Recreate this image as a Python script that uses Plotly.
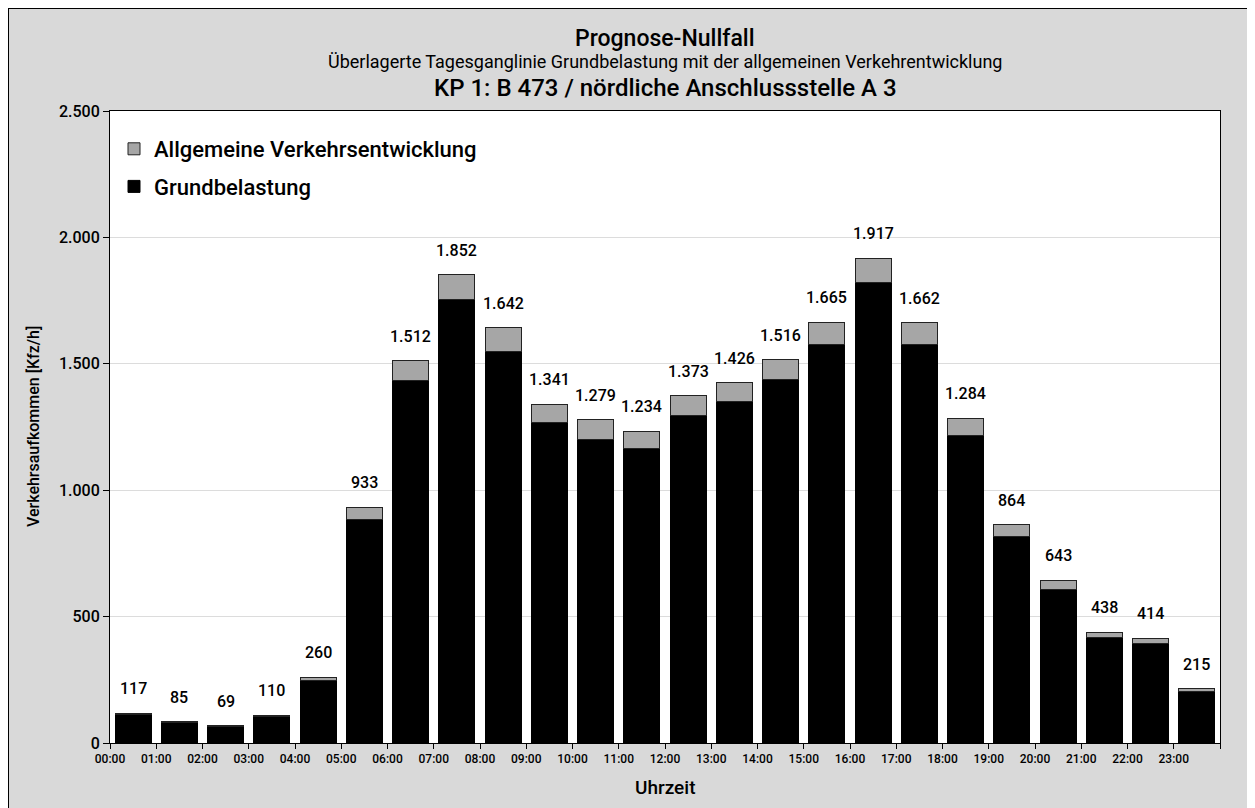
import plotly.graph_objects as go

hours = [f"{h:02d}:00" for h in range(24)]
totals = [117, 85, 69, 110, 260, 933, 1512, 1852, 1642, 1341, 1279, 1234,
          1373, 1426, 1516, 1665, 1917, 1662, 1284, 864, 643, 438, 414, 215]
grund = [111, 81, 66, 105, 247, 886, 1432, 1756, 1550, 1266, 1202, 1165,
         1297, 1349, 1437, 1578, 1820, 1576, 1218, 818, 609, 416, 393, 204]
allg = [t - g for t, g in zip(totals, grund)]

FONT = "Roboto, DejaVu Sans, sans-serif"
xpos = [i + 0.5 for i in range(len(hours))]

# plot area in figure pixels
L, T, R, B = 102, 103, 1212, 735
W, H = 1255, 808

def px(p):
    return (p - L) / (R - L)

def py(p):
    return (B - p) / (B - T)

fig = go.Figure()
fig.add_trace(go.Bar(x=xpos, y=grund, name="Grundbelastung", width=0.78, legendgroup="g",
                     legendrank=2,
                     marker=dict(color="#000000", line=dict(color="#000000", width=1))))
fig.add_trace(go.Bar(x=xpos, y=allg, name="Allgemeine Verkehrsentwicklung", width=0.78,
                     legendgroup="a", legendrank=1,
                     marker=dict(color="#a6a6a6", line=dict(color="#222222", width=1))))

def de(n):
    return f"{n:,}".replace(",", ".")

annotations = []
for x, t in zip(xpos, totals):
    annotations.append(dict(x=x, y=t, xref="x", yref="y", text=de(t), showarrow=False,
                            yanchor="bottom", yshift=13,
                            font=dict(size=16, color="#000", family=FONT, weight=500)))

annotations += [
    dict(x=0.5, y=py(30), xref="paper", yref="paper", text="Prognose-Nullfall", showarrow=False,
         yanchor="middle", font=dict(size=23, color="#000", family=FONT, weight=500)),
    dict(x=0.5, y=py(53), xref="paper", yref="paper",
         text="Überlagerte Tagesganglinie Grundbelastung mit der allgemeinen Verkehrentwicklung",
         showarrow=False, yanchor="middle", font=dict(size=18, color="#000", family=FONT)),
    dict(x=0.5, y=py(80), xref="paper", yref="paper", text="KP 1: B 473 / nördliche Anschlussstelle A 3",
         showarrow=False, yanchor="middle", font=dict(size=24, color="#000", family=FONT, weight=500)),
    dict(x=px(25), y=0.5, xref="paper", yref="paper", text="Verkehrsaufkommen [Kfz/h]",
         textangle=-90, showarrow=False, xanchor="center", yanchor="middle",
         font=dict(size=16, color="#000", family=FONT, weight=500)),
    dict(x=0.5, y=py(779), xref="paper", yref="paper", text="Uhrzeit", showarrow=False,
         yanchor="middle", font=dict(size=19, color="#000", family=FONT, weight=500)),
]

shapes = [
    dict(type="line", xref="paper", yref="paper", x0=px(0), x1=px(0),
         y0=py(H + 5), y1=py(0), line=dict(color="#000", width=2)),
    dict(type="line", xref="paper", yref="paper", x0=px(-1), x1=px(W + 5),
         y0=py(0), y1=py(0), line=dict(color="#000", width=2)),
]

fig.update_layout(
    width=W, height=H,
    barmode="stack",
    separators=",.",
    paper_bgcolor="#d9d9d9",
    plot_bgcolor="#ffffff",
    margin=dict(l=L, r=W - R, t=T, b=H - B),
    font=dict(family=FONT, color="#000"),
    annotations=annotations,
    shapes=shapes,
    showlegend=True,
    legend=dict(x=px(106), y=py(120), xanchor="left", yanchor="top",
                traceorder="grouped",
                bgcolor="rgba(255,255,255,0)",
                font=dict(size=22, color="#000", family=FONT, weight=500),
                itemwidth=30, tracegroupgap=6),
    xaxis=dict(range=[0, 24], tickmode="array", tickvals=list(range(25)),
               ticktext=hours + [""], ticks="outside", ticklen=5, tickcolor="#000",
               showline=True, linecolor="#000", linewidth=1, mirror=True,
               showgrid=False, zeroline=False,
               tickfont=dict(size=12, color="#000", family=FONT, weight=500)),
    yaxis=dict(range=[0, 2500], tickmode="array", tickvals=[0, 500, 1000, 1500, 2000, 2500],
               tickformat=",d", ticks="outside", ticklen=6, tickcolor="#000",
               showline=True, linecolor="#000", linewidth=1, mirror=True,
               showgrid=True, gridcolor="#dcdcdc", gridwidth=1, zeroline=False,
               tickfont=dict(size=16, color="#000", family=FONT, weight=500)),
)

fig.write_html("out.html")
